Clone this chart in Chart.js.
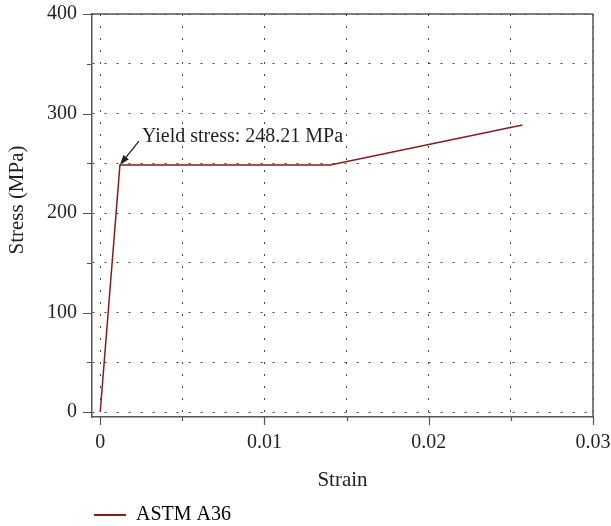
<!DOCTYPE html>
<html><head><meta charset="utf-8">
<script src="https://cdn.jsdelivr.net/npm/chart.js@4/dist/chart.umd.min.js"></script>
<style>html,body{margin:0;padding:0;background:#fff;}#wrap{width:611px;height:526px;}</style>
</head><body><div id="wrap"><canvas id="c" width="611" height="526"></canvas></div>
<script>
const strain = [0, 0.0012, 0.014, 0.0257];
const stress = [0, 248.21, 248.21, 288.5];
const seriesName = 'ASTM A36';
const xMajorTicks = [0, 0.01, 0.02, 0.03];
const xMinorTicks = [0.005, 0.015, 0.025];
const yMajorTicks = [0, 100, 200, 300, 400];
const yMinorTicks = [50, 150, 250, 350];
const xTitle = 'Strain';
const yTitle = 'Stress (MPa)';
const yieldStrain = 0.0012;
const yieldStress = 248.21;
const annotationText = 'Yield stress: ' + yieldStress + ' MPa';

const FONT = '"Liberation Serif", "Times New Roman", serif';
const TXT = '#231f20';
const AXIS = '#555';
const LINE = '#8b1a1a';

const decor = {
  id: 'decor',
  afterLayout(chart) {
    if (chart.legend) { chart.legend.top += 9; chart.legend.bottom += 9; }
  },
  afterDraw(chart) {
    const {ctx, chartArea: a, scales: {x, y}} = chart;
    ctx.save();
    ctx.strokeStyle = AXIS; ctx.lineWidth = 1.5;
    ctx.beginPath();
    ctx.moveTo(a.left, a.top); ctx.lineTo(a.right, a.top);
    ctx.moveTo(a.right, a.top); ctx.lineTo(a.right, a.bottom);
    ctx.stroke();
    ctx.lineWidth = 1.2;
    ctx.beginPath();
    yMajorTicks.forEach(v => { const p = Math.round(y.getPixelForValue(v)) + 0.5; ctx.moveTo(a.left - 9, p); ctx.lineTo(a.left, p); });
    yMinorTicks.forEach(v => { const p = Math.round(y.getPixelForValue(v)) + 0.5; ctx.moveTo(a.left - 5, p); ctx.lineTo(a.left, p); });
    xMajorTicks.forEach(v => { const p = Math.round(x.getPixelForValue(v)) + 0.5; ctx.moveTo(p, a.bottom); ctx.lineTo(p, a.bottom + 8); });
    xMinorTicks.forEach(v => { const p = Math.round(x.getPixelForValue(v)) + 0.5; ctx.moveTo(p, a.bottom); ctx.lineTo(p, a.bottom + 4); });
    ctx.stroke();
    // y title
    ctx.fillStyle = TXT;
    ctx.font = '21px ' + FONT;
    ctx.textAlign = 'center'; ctx.textBaseline = 'middle';
    ctx.translate(17, 200); ctx.rotate(-Math.PI / 2);
    ctx.fillText(yTitle, 0, 0);
    ctx.restore();
    // annotation
    const tx = x.getPixelForValue(yieldStrain), ty = y.getPixelForValue(yieldStress);
    const sx = tx + 19, sy = ty - 24;
    const ang = Math.atan2(ty - sy, tx - sx);
    ctx.save();
    ctx.strokeStyle = TXT; ctx.fillStyle = TXT; ctx.lineWidth = 1.3;
    const hl = 10, hw = 3.5;
    const bx = tx - hl * Math.cos(ang), by = ty - hl * Math.sin(ang);
    ctx.beginPath(); ctx.moveTo(sx, sy); ctx.lineTo(bx, by); ctx.stroke();
    ctx.beginPath();
    ctx.moveTo(tx, ty);
    ctx.lineTo(bx + hw * Math.sin(ang), by - hw * Math.cos(ang));
    ctx.lineTo(bx - hw * Math.sin(ang), by + hw * Math.cos(ang));
    ctx.closePath(); ctx.fill();
    ctx.font = '20px ' + FONT;
    ctx.textAlign = 'left'; ctx.textBaseline = 'alphabetic';
    ctx.fillText(annotationText, tx + 22, ty - 23);
    ctx.restore();
  }
};

new Chart(document.getElementById('c'), {
  type: 'line',
  data: {
    datasets: [{
      label: seriesName,
      data: strain.map((s, i) => ({x: s, y: stress[i]})),
      borderColor: LINE, backgroundColor: LINE,
      borderWidth: 1.5, pointRadius: 0, tension: 0, fill: false
    }]
  },
  options: {
    responsive: false, animation: false, devicePixelRatio: 1,
    layout: {padding: {left: 0, right: 18, top: 14, bottom: 0}},
    plugins: {
      tooltip: {enabled: false},
      legend: {
        position: 'bottom', align: 'start', fullSize: false,
        labels: {
          boxWidth: 32, boxHeight: 2, padding: 2, color: TXT,
          font: {family: FONT, size: 20},
          generateLabels: (chart) => chart.data.datasets.map((d, i) => ({
            text: d.label, fillStyle: d.borderColor, strokeStyle: d.borderColor, lineWidth: 0, datasetIndex: i, hidden: false
          }))
        }
      }
    },
    scales: {
      x: {
        type: 'linear', min: -0.0005, max: 0.03,
        afterBuildTicks: s => { s.ticks = xMajorTicks.concat(xMinorTicks).sort((a, b) => a - b).map(v => ({value: v})); },
        afterFit: s => { s.height = 77; s.paddingLeft = 0; s.paddingRight = 0; },
        ticks: {
          autoSkip: false, maxRotation: 0, padding: 14, color: TXT,
          font: {family: FONT, size: 20},
          callback: v => xMajorTicks.includes(v) ? String(v) : ''
        },
        grid: {color: '#444', lineWidth: 1, drawTicks: false},
        border: {display: true, color: AXIS, width: 1.5, dash: [2, 10]},
        title: {display: true, text: xTitle, color: TXT, font: {family: FONT, size: 21}, padding: {top: 0, bottom: 1}}
      },
      y: {
        type: 'linear', min: -5, max: 400,
        afterBuildTicks: s => { s.ticks = yMajorTicks.concat(yMinorTicks).sort((a, b) => a - b).map(v => ({value: v})); },
        afterFit: s => { s.width = 92; s.paddingTop = 0; s.paddingBottom = 0; },
        ticks: {
          autoSkip: false, padding: 15, color: TXT,
          font: {family: FONT, size: 20},
          callback: v => yMajorTicks.includes(v) ? String(v) : ''
        },
        grid: {color: '#444', lineWidth: 1, drawTicks: false},
        border: {display: true, color: AXIS, width: 1.5, dash: [2, 10]}
      }
    }
  },
  plugins: [decor]
});
</script>
</body></html>
